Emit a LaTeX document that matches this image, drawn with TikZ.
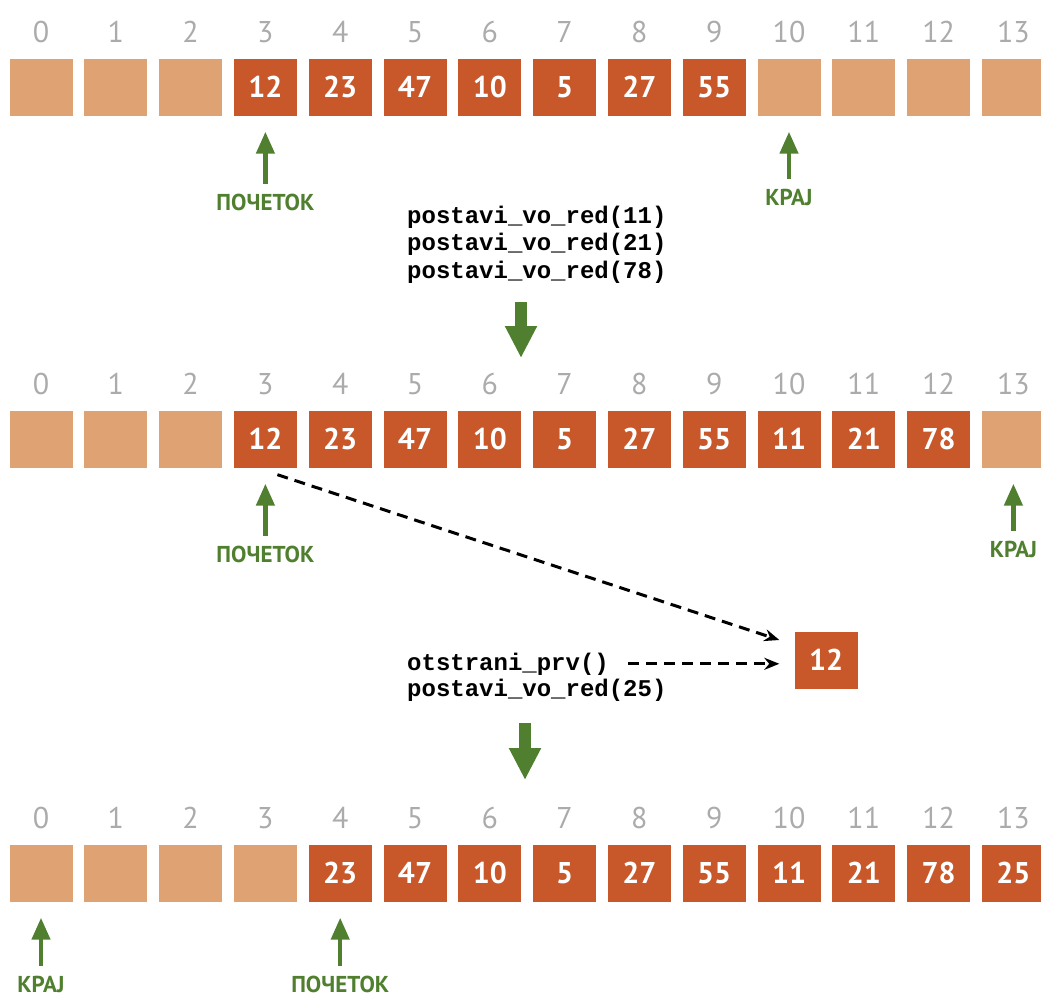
\documentclass[tikz,border=0pt]{standalone}
\usepackage{fontspec}
\setmainfont{PT Sans}
\newfontfamily\codefont{Liberation Mono}
\usetikzlibrary{arrows.meta,positioning}
\definecolor{cellfull}{HTML}{C8572A}
\definecolor{cellfree}{HTML}{DFA272}
\definecolor{ptrgreen}{HTML}{4F7F2F}
\definecolor{idxgray}{HTML}{ABABAB}
\tikzset{
    %Define style for cells
    full/.style={
           rectangle,
           fill=cellfull,
           text=white,
           minimum width=63pt,
           minimum height=57pt,
           inner sep=0pt,
           font=\bfseries\fontsize{30}{30}\selectfont},
    free/.style={
           rectangle,
           fill=cellfree,
           minimum width=63pt,
           minimum height=57pt,
           inner sep=0pt},
    idx/.style={
           text=idxgray,
           font=\fontsize{30}{30}\selectfont},
    lbl/.style={
           text=ptrgreen,
           font=\bfseries\fontsize{23}{23}\selectfont},
    code/.style={
           anchor=base west,
           inner sep=0pt,
           font=\codefont\bfseries\fontsize{24}{27.5}\selectfont},
    % Define arrow styles
    ptr/.style={
           draw=ptrgreen,
           line width=4.5pt,
           -{Triangle[width=18pt,length=22pt]},
           shorten >=16pt,
           shorten <=7pt},
    nextrow/.style={
           draw=ptrgreen,
           line width=12pt,
           -{Triangle[width=30pt,length=32pt]}},
    move/.style={
           draw=black,
           line width=3pt,
           dash pattern=on 11pt off 7pt,
           -{Stealth[length=15pt,width=12pt]}}
}
\begin{document}
\begin{tikzpicture}[x=1pt,y=-1pt,node distance=75pt]
\useasboundingbox (0,0) rectangle (1041,999);

 %first row
\foreach \i in {0,1,2,10,11,12,13}
    \node[free] (a\i) at ({41+74.8*\i},87) {};
\foreach \v [count=\i from 3] in {12,23,47,10,5,27,55}
    \node[full] (a\i) at ({41+74.8*\i},87) {\v};
\foreach \i in {0,...,13}
    \node[idx, above=12pt of a\i] {\i};
\node[lbl, below=of a3](start1){ПОЧЕТОК};
\node[lbl, below=70pt of a10](end1){КРАЈ};
\draw[ptr] (start1) -- (a3);
\draw[ptr] (end1) -- (a10);

 %inserts
\foreach \t [count=\k from 0] in {11,21,78}
    \node[code] (ins\t) at (407,{223+27.5*\k}) {postavi\_vo\_red(\t)};
\coordinate (down1a) at (521,302);
\coordinate (down1b) at (521,358);
\draw[nextrow] (down1a) -- (down1b);

 %second row
\foreach \i in {0,1,2,13}
    \node[free] (b\i) at ({41+74.8*\i},439) {};
\foreach \v [count=\i from 3] in {12,23,47,10,5,27,55,11,21,78}
    \node[full] (b\i) at ({41+74.8*\i},439) {\v};
\foreach \i in {0,...,13}
    \node[idx, above=12pt of b\i] {\i};
\node[lbl, below=of b3](start2){ПОЧЕТОК};
\node[lbl, below=70pt of b13](end2){КРАЈ};
\draw[ptr] (start2) -- (b3);
\draw[ptr] (end2) -- (b13);

 %dequeue
\node[full] (out) at (826,660) {12};
\draw[move] ([xshift=12pt,yshift=-7pt]b3.south) -- ([xshift=-15pt,yshift=20pt]out.west);
\node[code] (del) at (407,670) {otstrani\_prv()};
\node[code] (ins25) at (407,696) {postavi\_vo\_red(25)};
\draw[move, shorten <=19pt, shorten >=15pt] (del.east) -- (del.east -| out.west);
\coordinate (down2a) at (525,723);
\coordinate (down2b) at (525,780);
\draw[nextrow] (down2a) -- (down2b);

 %third row
\foreach \i in {0,1,2,3}
    \node[free] (c\i) at ({41+74.8*\i},873) {};
\foreach \v [count=\i from 4] in {23,47,10,5,27,55,11,21,78,25}
    \node[full] (c\i) at ({41+74.8*\i},873) {\v};
\foreach \i in {0,...,13}
    \node[idx, above=12pt of c\i] {\i};
\node[lbl, below=71pt of c4](start3){ПОЧЕТОК};
\node[lbl, below=71pt of c0](end3){КРАЈ};
\draw[ptr] (start3) -- (c4);
\draw[ptr] (end3) -- (c0);
\end{tikzpicture}
\end{document}
